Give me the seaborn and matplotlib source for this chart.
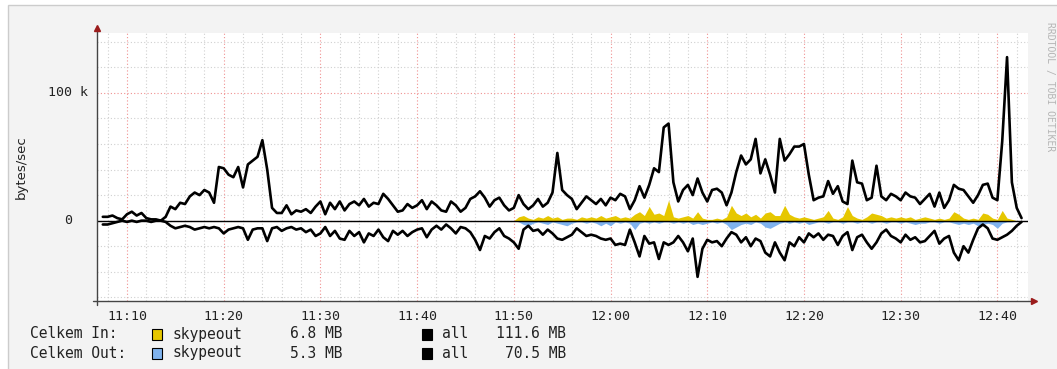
import numpy as np
import pandas as pd
import matplotlib
matplotlib.use("Agg")
import matplotlib.pyplot as plt
import matplotlib.dates as mdates
from matplotlib.ticker import MultipleLocator
from matplotlib.patches import Rectangle
import seaborn as sns

sns.set_style("white")
plt.rcParams["font.family"] = ["DejaVu Sans Mono", "DejaVu Sans"]

# samples every 30 s from 11:07:30, values in kB/s
in_all = [
    3, 3, 4, 2, 1,
    5, 7, 4, 6, 2, 1, 1, 0, 3, 11,
    9, 14, 13, 19, 22, 20, 24, 22, 14, 42,
    41, 36, 34, 42, 26, 44, 47, 50, 63, 40,
    10, 6, 6, 12, 5, 8, 7, 9, 6, 11,
    15, 5, 14, 9, 15, 8, 13, 15, 12, 17,
    11, 14, 13, 21, 17, 12, 7, 8, 13, 10,
    12, 16, 9, 15, 12, 8, 7, 15, 12, 7,
    10, 17, 19, 23, 18, 11, 16, 18, 12, 8,
    10, 20, 13, 9, 12, 17, 11, 14, 22, 53,
    24, 20, 17, 9, 14, 19, 16, 13, 17, 12,
    18, 16, 21, 19, 9, 16, 27, 18, 28, 41,
    38, 73, 76, 30, 15, 24, 28, 20, 33, 22,
    15, 24, 25, 22, 12, 22, 38, 51, 44, 48,
    64, 37, 48, 36, 22, 64, 47, 52, 58, 58,
    60, 36, 16, 18, 19, 31, 21, 27, 15, 13,
    47, 30, 29, 16, 18, 43, 19, 16, 21, 19,
    16, 22, 19, 18, 13, 17, 21, 11, 22, 10,
    16, 28, 25, 24, 19, 14, 20, 28, 29, 18,
    16, 62, 128, 30, 10, 2,
]
out_all = [
    -3, -3, -2, -1, 0,
    -1, 0, -1, 0, 0, -1, 0, 0, -1, -4,
    -6, -5, -4, -5, -7, -6, -5, -6, -5, -6,
    -10, -7, -6, -5, -6, -15, -7, -6, -6, -16,
    -6, -5, -8, -6, -5, -7, -6, -9, -7, -12,
    -10, -5, -12, -8, -14, -15, -8, -12, -9, -17,
    -10, -12, -7, -13, -16, -8, -11, -8, -12, -9,
    -7, -6, -13, -7, -4, -7, -3, -6, -10, -5,
    -6, -9, -15, -23, -12, -14, -9, -6, -12, -14,
    -17, -22, -7, -4, -8, -7, -11, -7, -10, -14,
    -15, -13, -11, -6, -9, -12, -11, -12, -14, -15,
    -14, -19, -18, -19, -7, -17, -28, -12, -18, -17,
    -30, -17, -19, -17, -12, -17, -24, -14, -44, -22,
    -15, -17, -16, -20, -14, -9, -11, -17, -13, -20,
    -14, -16, -25, -28, -17, -25, -31, -17, -20, -13,
    -17, -10, -13, -10, -15, -11, -12, -19, -12, -9,
    -23, -13, -11, -17, -22, -17, -10, -7, -12, -14,
    -17, -11, -15, -13, -17, -16, -12, -8, -18, -14,
    -12, -25, -31, -20, -25, -15, -6, -3, -6, -14,
    -15, -13, -11, -8, -4, -1,
]
# skypeout samples every 30 s from 11:50:00
skype_in = [
    0, 3, 4, 2, 1, 3, 2, 4, 2, 3,
    1, 2, 2, 1, 3, 2, 3, 2, 4, 2,
    3, 4, 2, 3, 2, 5, 7, 4, 11, 5,
    6, 4, 16, 3, 2, 3, 4, 2, 7, 2,
    1, 1, 2, 1, 3, 12, 6, 4, 6, 3,
    5, 2, 6, 7, 4, 4, 12, 5, 3, 2,
    3, 2, 1, 2, 3, 8, 2, 1, 3, 11,
    4, 2, 1, 3, 6, 5, 4, 2, 3, 2,
    3, 2, 3, 1, 2, 3, 2, 1, 2, 1,
    2, 7, 5, 2, 1, 2, 1, 6, 5, 2,
    1, 8, 2, 1, 0, 0,
]
skype_out = [
    0, -1, -3, -4, -2, -1, -2, -3, -1, -2,
    -3, -4, -2, -1, -1, -2, -1, -2, -4, -2,
    -4, -1, -2, -1, -2, -7, -2, -1, -2, -1,
    -2, -1, -1, -2, -1, -2, -1, -3, -2, -3,
    -2, -1, -2, -1, -3, -7, -5, -3, -2, -3,
    -1, -2, -5, -6, -4, -2, -1, -2, -1, -2,
    -1, -3, -2, -1, -1, -2, -1, -1, -2, -1,
    -1, -2, -1, -1, -2, -1, -1, -2, -1, -1,
    -2, -1, -2, -3, -2, -2, -1, -1, -2, -1,
    -1, -2, -3, -2, -3, -2, -4, -3, -2, -3,
    -6, -2, -1, -1, 0, 0,
]

legend_rows = ["Celkem In:", "Celkem Out:"]
skype_totals = ["6.8 MB", "5.3 MB"]
all_totals = ["111.6 MB", "70.5 MB"]

YELLOW = "#e6c700"
BLUE = "#80b3ee"
DARKRED = "#9b1c1c"

times = pd.date_range("2024-01-01 11:07:30", periods=len(in_all), freq="30s")
skype_times = pd.date_range("2024-01-01 11:50:00", periods=len(skype_in), freq="30s")
df = pd.DataFrame({"time": times, "in": in_all, "out": out_all})

W, H = 1057, 369
fig = plt.figure(figsize=(W / 100, H / 100), dpi=100)
fig.patch.set_facecolor("white")
fig.add_artist(Rectangle((8 / W, -0.01), 1, 1 - 5 / H + 0.01, transform=fig.transFigure,
                         facecolor="#f3f3f3", edgecolor="#cccccc", lw=1, zorder=-10))

ax = fig.add_axes([97 / W, 1 - 301 / H, (1028 - 97) / W, (301 - 33) / H])
ax.set_facecolor("white")

ax.fill_between(skype_times, 0, skype_in, color=YELLOW, lw=0, zorder=2)
ax.fill_between(skype_times, 0, skype_out, color=BLUE, lw=0, zorder=2)
sns.lineplot(data=df, x="time", y="in", color="black", lw=1.9, ax=ax, zorder=3)
sns.lineplot(data=df, x="time", y="out", color="black", lw=1.9, ax=ax, zorder=3)
ax.axhline(0, color="black", lw=1.0, zorder=4)

ax.set_xlim(pd.Timestamp("2024-01-01 11:06:54"), pd.Timestamp("2024-01-01 12:43:10"))
ax.set_ylim(-62.9, 146.9)

ax.xaxis.set_major_locator(mdates.MinuteLocator(byminute=range(0, 60, 10)))
ax.xaxis.set_minor_locator(mdates.MinuteLocator(byminute=range(0, 60, 2)))
ax.xaxis.set_major_formatter(mdates.DateFormatter("%H:%M"))
ax.yaxis.set_major_locator(MultipleLocator(100))
ax.yaxis.set_minor_locator(MultipleLocator(20))
ax.grid(which="minor", color="#d0d0d0", ls=(0, (1, 2)), lw=0.8)
ax.grid(which="major", color="#f09090", ls=(0, (1, 2)), lw=0.8)
ax.set_axisbelow(True)

for s in ax.spines.values():
    s.set_visible(False)
ax.set_xlabel("")
ax.set_ylabel("")
ax.tick_params(axis="x", which="both", direction="out", length=2.5, color="#666666",
               labelsize=9.5, pad=4, labelcolor="#222222")
ax.tick_params(axis="x", which="major", color="#e07070")
ax.tick_params(axis="y", which="both", direction="out", length=2.5, color="#666666",
               labelleft=False)

# axis lines with arrow heads
ax.plot([0, 0], [-0.015, 1.015], transform=ax.transAxes, color="#444444", lw=1, clip_on=False, zorder=5)
ax.plot([-0.004, 1.004], [0, 0], transform=ax.transAxes, color="#444444", lw=1, clip_on=False, zorder=5)
ax.plot(0, 1.02, marker="^", ms=5, color=DARKRED, transform=ax.transAxes, clip_on=False, zorder=6)
ax.plot(1.006, 0, marker=">", ms=5, color=DARKRED, transform=ax.transAxes, clip_on=False, zorder=6)

ytr = ax.get_yaxis_transform()
ax.text(-9 / 931, 100, "100 k", transform=ytr, ha="right", va="center", fontsize=9.5, color="#222222")
ax.text(-25 / 931, 0, "0", transform=ytr, ha="right", va="center", fontsize=9.5, color="#222222")

fig.text(21 / W, 1 - 167 / H, "bytes/sec", rotation=90, ha="center", va="center",
         family="DejaVu Sans", fontsize=9.5, color="#222222")
fig.text(1050 / W, 1 - 87 / H, "RRDTOOL / TOBI OETIKER", rotation=270, ha="center", va="center",
         fontsize=7, color="#b5b5b5")

# legend
for i, (row, sk, al, col) in enumerate(zip(legend_rows, skype_totals, all_totals, [YELLOW, BLUE])):
    yc = 334 + i * 19
    fy = 1 - yc / H
    fig.text(30 / W, fy, row, ha="left", va="center", fontsize=10.5, color="#222222")
    fig.add_artist(Rectangle((152 / W, 1 - (yc + 5.5) / H), 10 / W, 11 / H, transform=fig.transFigure,
                             facecolor=col, edgecolor="black", lw=0.8))
    fig.text(172 / W, fy, "skypeout", ha="left", va="center", fontsize=10.5, color="#222222")
    fig.text(342 / W, fy, sk, ha="right", va="center", fontsize=10.5, color="#222222")
    fig.add_artist(Rectangle((422 / W, 1 - (yc + 5.5) / H), 10 / W, 11 / H, transform=fig.transFigure,
                             facecolor="black", edgecolor="black", lw=0.8))
    fig.text(442 / W, fy, "all", ha="left", va="center", fontsize=10.5, color="#222222")
    fig.text(566 / W, fy, al, ha="right", va="center", fontsize=10.5, color="#222222")

fig.savefig("out.png", dpi=100)
